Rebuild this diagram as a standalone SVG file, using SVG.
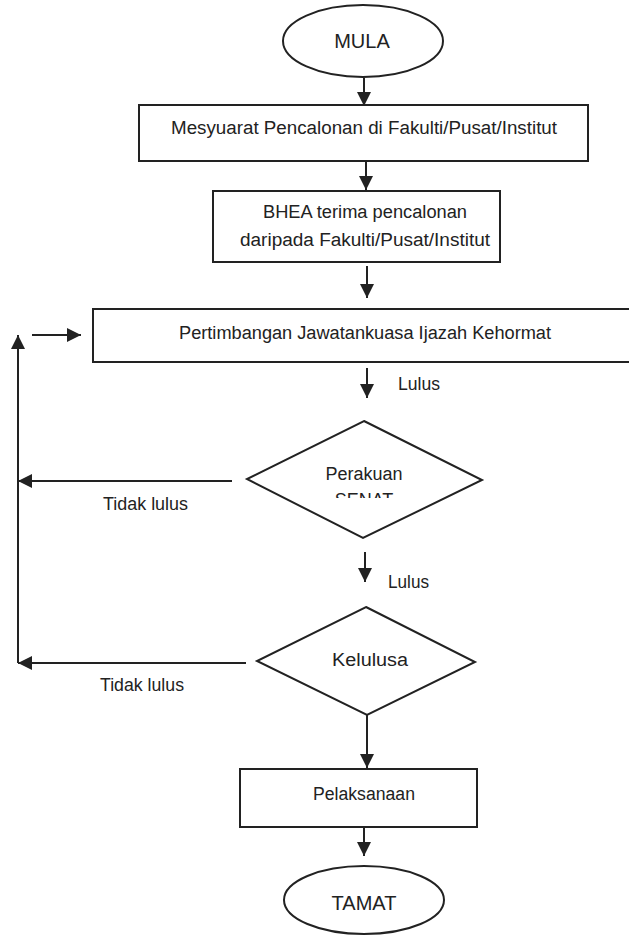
<svg xmlns="http://www.w3.org/2000/svg" width="629" height="936" viewBox="0 0 629 936">
<style>
.shape{fill:#fff;stroke:#222;stroke-width:2}
.conn{fill:none;stroke:#222;stroke-width:2}
text{font-family:"Liberation Sans",Arial,sans-serif;fill:#222;text-anchor:middle}
.t{font-size:18px}
.lbl{font-size:17.5px;text-anchor:start}
.big{font-size:20px}
</style>
<defs>
<marker id="ah" markerUnits="userSpaceOnUse" markerWidth="14" markerHeight="14" refX="14" refY="7" orient="auto">
<path d="M0,0 L14,7 L0,14 z" fill="#222"/>
</marker>
<clipPath id="senatClip"><rect x="300" y="485" width="130" height="13"/></clipPath>
<clipPath id="kelClip"><rect x="300" y="640" width="130" height="32"/></clipPath>
</defs>
<rect width="629" height="936" fill="#fff"/>

<g id="mula">
<ellipse class="shape" cx="363" cy="41" rx="80" ry="36"/>
<text class="big" x="362" y="48">MULA</text>
</g>

<g id="mesyuarat">
<rect class="shape" x="139" y="105" width="449" height="56"/>
<text class="t" x="364" y="134" textLength="386" lengthAdjust="spacingAndGlyphs">Mesyuarat Pencalonan di Fakulti/Pusat/Institut</text>
</g>

<g id="bhea">
<rect class="shape" x="213" y="191" width="287" height="71"/>
<text class="t" x="365" y="218" textLength="204" lengthAdjust="spacingAndGlyphs">BHEA terima pencalonan</text>
<text class="t" x="365" y="246" textLength="250" lengthAdjust="spacingAndGlyphs">daripada Fakulti/Pusat/Institut</text>
</g>

<g id="pertimbangan">
<rect class="shape" x="93" y="309" width="545" height="53"/>
<text class="t" x="365" y="339" textLength="372" lengthAdjust="spacingAndGlyphs">Pertimbangan Jawatankuasa Ijazah Kehormat</text>
</g>

<g id="senat">
<polygon class="shape" points="364,421 482,480 363,538 247,479"/>
<text class="t" x="364" y="480" textLength="77" lengthAdjust="spacingAndGlyphs">Perakuan</text>
<text class="t" x="364" y="506" clip-path="url(#senatClip)">SENAT</text>
</g>

<g id="kelulusan">
<polygon class="shape" points="366,607 475,662 367,715 257,661"/>
<text class="t" x="370" y="666" textLength="76" lengthAdjust="spacingAndGlyphs" clip-path="url(#kelClip)">Kelulusa</text>
</g>

<g id="pelaksanaan">
<rect class="shape" x="240" y="769" width="237" height="58"/>
<text class="t" x="364" y="800" textLength="102" lengthAdjust="spacingAndGlyphs">Pelaksanaan</text>
</g>

<g id="tamat">
<ellipse class="shape" cx="364" cy="900" rx="80" ry="34"/>
<text class="big" x="364" y="910">TAMAT</text>
</g>

<g id="connectors">
<path class="conn" d="M364,78 V106" marker-end="url(#ah)"/>
<path class="conn" d="M366,161 V190" marker-end="url(#ah)"/>
<path class="conn" d="M367,266 V298" marker-end="url(#ah)"/>
<path class="conn" d="M32,335 H81" marker-end="url(#ah)"/>
<path class="conn" d="M18,663 V335" marker-end="url(#ah)"/>
<path class="conn" d="M367,368 V398" marker-end="url(#ah)"/>
<path class="conn" d="M232,481 H18" marker-end="url(#ah)"/>
<path class="conn" d="M365,552 V582" marker-end="url(#ah)"/>
<path class="conn" d="M246,663 H18" marker-end="url(#ah)"/>
<path class="conn" d="M367,715 V768" marker-end="url(#ah)"/>
<path class="conn" d="M364,827 V856" marker-end="url(#ah)"/>
<text class="lbl" x="398" y="390" textLength="42" lengthAdjust="spacingAndGlyphs">Lulus</text>
<text class="lbl" x="103" y="510" textLength="85" lengthAdjust="spacingAndGlyphs">Tidak lulus</text>
<text class="lbl" x="388" y="588" textLength="41" lengthAdjust="spacingAndGlyphs">Lulus</text>
<text class="lbl" x="100" y="691" textLength="84" lengthAdjust="spacingAndGlyphs">Tidak lulus</text>
</g>
</svg>
